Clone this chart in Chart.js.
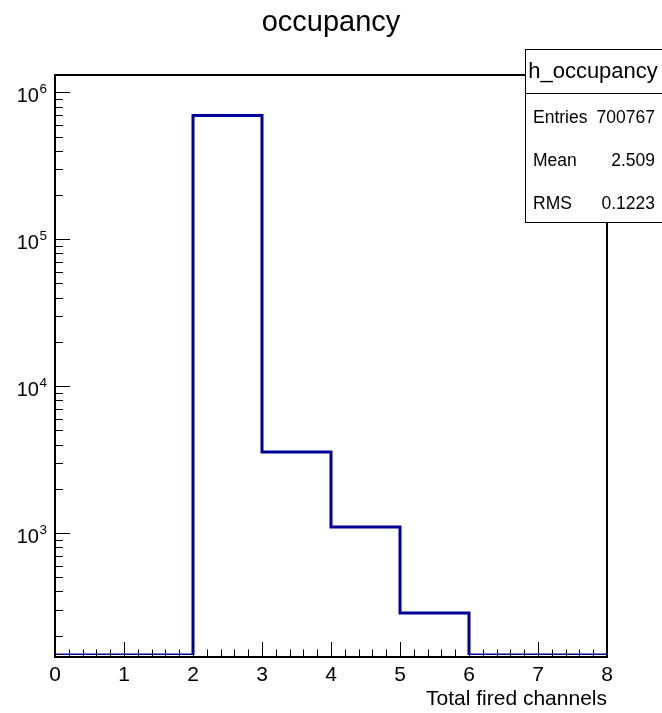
<!DOCTYPE html>
<html>
<head>
<meta charset="utf-8">
<script src="https://cdn.jsdelivr.net/npm/chart.js@4"></script>
<style>
  body { margin: 0; background: #fff; }
  canvas { display: block; }
</style>
</head>
<body>
<canvas id="occChart" width="662" height="713"></canvas>
<script>
// histogram h_occupancy, bin edges 0..8
const binEdges = [0, 1, 2, 3, 4, 5, 6, 7, 8];
const binCounts = [0, 0, 695827, 3556, 1099, 285, 0, 0];
const xTickLabels = ['0', '1', '2', '3', '4', '5', '6', '7', '8'];
const yDecades = [3, 4, 5, 6];
const statsNames = ['Entries', 'Mean', 'RMS'];
const statsValues = ['700767', '2.509', '0.1223'];

const Y_MIN = 147.7;
const Y_MAX = 1.3118e6;
const FONT = '"Liberation Sans", Arial, Helvetica, sans-serif';

// empty bins sit on the bottom of the frame like root does
const points = binEdges.map((e, i) => {
  const c = i < binCounts.length ? binCounts[i] : binCounts[binCounts.length - 1];
  return { x: e, y: Math.max(c, Y_MIN) };
});

// frame, inward ticks, 10^n labels and stats box
const rootStyle = {
  id: 'rootStyle',
  afterDraw(chart) {
    const ctx = chart.ctx;
    const a = chart.chartArea;
    const xs = chart.scales.x;
    const ys = chart.scales.y;
    const bottom = a.bottom + 2;
    ctx.save();
    ctx.strokeStyle = '#000';
    ctx.lineWidth = 2;
    ctx.strokeRect(a.left, a.top, a.right - a.left, bottom - a.top);

    ctx.lineWidth = 1;
    ctx.beginPath();
    for (let k = 0; k <= 40; k++) {
      const v = xs.min + k * 0.2;
      const px = Math.round(xs.getPixelForValue(v)) + 0.5;
      const len = k % 5 === 0 ? 15 : 7.5;
      ctx.moveTo(px, bottom);
      ctx.lineTo(px, bottom - len);
    }
    const e0 = Math.floor(Math.log10(ys.min));
    const e1 = Math.ceil(Math.log10(ys.max));
    for (let e = e0; e <= e1; e++) {
      for (let m = 1; m <= 9; m++) {
        const v = m * Math.pow(10, e);
        if (v < ys.min || v > ys.max) continue;
        const py = Math.round(ys.getPixelForValue(v)) + 0.5;
        const len = m === 1 ? 15 : 8;
        ctx.moveTo(a.left, py);
        ctx.lineTo(a.left + len, py);
      }
    }
    ctx.stroke();

    ctx.fillStyle = '#000';
    ctx.textBaseline = 'alphabetic';
    ctx.textAlign = 'right';
    yDecades.forEach(d => {
      const py = ys.getPixelForValue(Math.pow(10, d));
      ctx.font = '13.5px ' + FONT;
      const sup = String(d);
      ctx.fillText(sup, 47, py + 1);
      const w = ctx.measureText(sup).width;
      ctx.font = '20px ' + FONT;
      ctx.fillText('10', 47 - w - 0.5, py + 10);
    });

    // stats box
    const bx = 525, by = 49, bw = 150, bh = 173;
    ctx.fillStyle = '#fff';
    ctx.fillRect(bx, by, bw, bh);
    ctx.lineWidth = 1;
    ctx.strokeStyle = '#000';
    ctx.strokeRect(bx + 0.5, by + 0.5, bw, bh);
    ctx.beginPath();
    ctx.moveTo(bx, 93.5);
    ctx.lineTo(bx + bw, 93.5);
    ctx.stroke();
    ctx.fillStyle = '#000';
    ctx.textBaseline = 'middle';
    ctx.textAlign = 'center';
    ctx.font = '22px ' + FONT;
    ctx.fillText('h_occupancy', 593, 72);
    ctx.font = '17.5px ' + FONT;
    const rowY = [118, 161, 204];
    statsNames.forEach((n, i) => {
      ctx.textAlign = 'left';
      ctx.fillText(n, 533, rowY[i]);
      ctx.textAlign = 'right';
      ctx.fillText(statsValues[i], 655, rowY[i]);
    });
    ctx.restore();
  }
};

new Chart(document.getElementById('occChart').getContext('2d'), {
  type: 'line',
  data: {
    datasets: [{
      label: 'h_occupancy',
      data: points,
      stepped: true,
      borderColor: '#000099',
      borderWidth: 3,
      pointRadius: 0,
      fill: false
    }]
  },
  options: {
    responsive: false,
    animation: false,
    devicePixelRatio: 1,
    layout: { padding: 0 },
    plugins: {
      legend: { display: false },
      tooltip: { enabled: false },
      title: {
        display: true,
        text: 'occupancy',
        color: '#000',
        font: { family: FONT, size: 29, weight: 'normal' },
        padding: { top: 5.5, bottom: 34.7 }
      }
    },
    scales: {
      x: {
        type: 'linear',
        min: 0,
        max: 8,
        grid: { display: false },
        border: { display: false },
        ticks: {
          stepSize: 1,
          autoSkip: false,
          maxRotation: 0,
          padding: 0,
          color: '#000',
          font: { family: FONT, size: 21 },
          callback: (v) => xTickLabels[v] ?? ''
        },
        title: {
          display: true,
          text: 'Total fired channels',
          align: 'end',
          color: '#000',
          font: { family: FONT, size: 21 },
          padding: { top: 0, bottom: 1 }
        },
        afterFit: (s) => { s.height = 58; }
      },
      y: {
        type: 'logarithmic',
        min: Y_MIN,
        max: Y_MAX,
        grid: { display: false },
        border: { display: false },
        ticks: { display: false },
        afterFit: (s) => { s.width = 55; }
      },
      // empty right-hand axis, only keeps the frame off the right edge
      yRight: {
        type: 'linear',
        position: 'right',
        grid: { display: false },
        border: { display: false },
        ticks: { display: false },
        afterFit: (s) => { s.width = 55; }
      }
    }
  },
  plugins: [rootStyle]
});
</script>
</body>
</html>
